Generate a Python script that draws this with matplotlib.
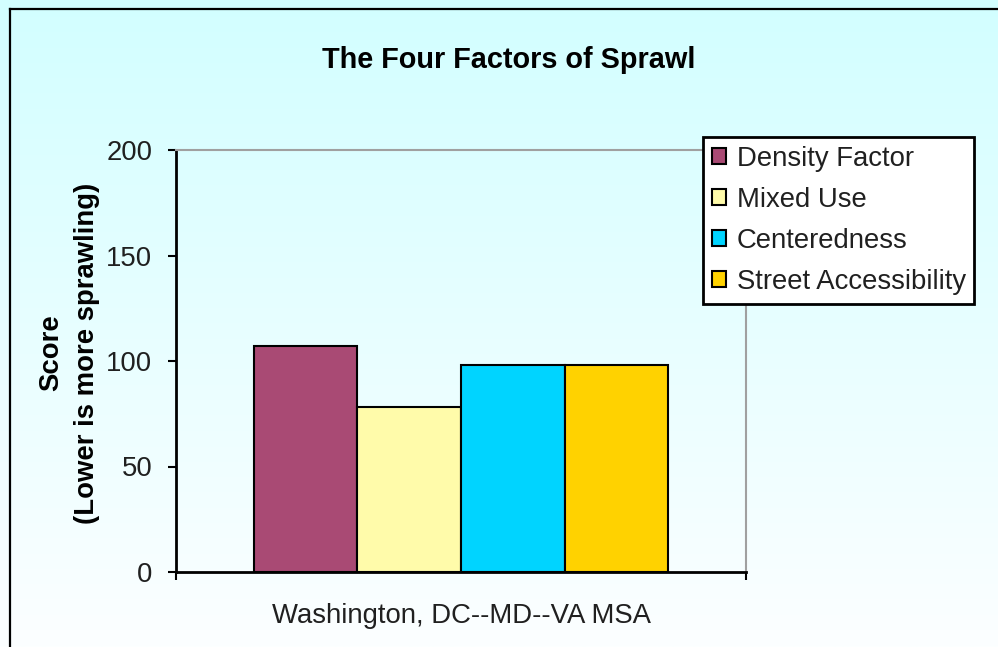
import numpy as np
import matplotlib
matplotlib.use("Agg")
import matplotlib.pyplot as plt
from matplotlib.lines import Line2D
from matplotlib.colors import to_rgb

# data
region = ["Washington, DC--MD--VA MSA"]
factors = ["Density Factor", "Mixed Use", "Centeredness", "Street Accessibility"]
scores = [107, 78, 98, 98]
colors = ["#A94A74", "#FFFBAA", "#00D4FF", "#FFD200"]
yticks = [0, 50, 100, 150, 200]

plt.rcParams['font.family'] = ['Liberation Sans', 'DejaVu Sans']
fs = 19.8

fig = plt.figure(figsize=(9.98, 6.47), dpi=100)

# light cyan gradient behind everything
bg = fig.add_axes([0, 0, 1, 1], zorder=-10)
top, bot = np.array(to_rgb("#D2FEFF")), np.array(to_rgb("#FCFFFF"))
t = np.linspace(0, 1, 256)[:, None, None]
grad = top * (1 - t) + bot * t
grad = np.repeat(grad, 2, axis=1)
bg.imshow(grad, aspect='auto', extent=[0, 1, 0, 1])
bg.axis('off')

# chart frame (only left and top visible)
fig.add_artist(Line2D([10 / 998, 10 / 998], [0, 1 - 9 / 647], color='black', lw=1.6,
                      transform=fig.transFigure))
fig.add_artist(Line2D([10 / 998, 1], [1 - 9 / 647, 1 - 9 / 647], color='black', lw=1.6,
                      transform=fig.transFigure))

ax = fig.add_axes([176 / 998, 1 - 572 / 647, 570 / 998, 422 / 647])
ax.patch.set_alpha(0)

width = 0.1816
n = len(factors)
for i, (f, s, c) in enumerate(zip(factors, scores, colors)):
    x = (i - (n - 1) / 2) * width
    ax.bar(x, s, width, color=c, edgecolor='black', linewidth=1.5, label=f, zorder=3)

ax.set_xlim(-0.5, 0.5)
ax.set_ylim(0, 200)
ax.set_yticks(yticks)
ax.tick_params(axis='y', direction='out', length=6, width=1.5, pad=11, labelsize=fs,
               colors='black', labelcolor='#202020')
ax.set_xticks([0], labels=region)
ax.tick_params(axis='x', which='major', length=0, pad=22, labelsize=fs, labelcolor='#202020')
ax.set_xticks([-0.5, 0.5], minor=True)
ax.tick_params(axis='x', which='minor', direction='out', length=6, width=1.5)

for side in ['left', 'bottom']:
    ax.spines[side].set_color('black')
    ax.spines[side].set_linewidth(2)
for side in ['top', 'right']:
    ax.spines[side].set_color('#A0A0A0')
    ax.spines[side].set_linewidth(1.5)

fig.text(509 / 998, 1 - 60 / 647, "The Four Factors of Sprawl", ha='center', va='center',
         fontsize=20.8, fontweight='bold')
fig.text(69 / 998, 1 - 353 / 647, "Score\n(Lower is more sprawling)", rotation=90,
         ha='center', va='center', multialignment='center', fontsize=fs,
         fontweight='bold', linespacing=1.5)

leg = ax.legend(loc='upper left', bbox_to_anchor=(703 / 998, 1 - 137 / 647),
                bbox_transform=fig.transFigure, fontsize=fs, frameon=True,
                fancybox=False, framealpha=1, facecolor='white', edgecolor='black',
                handlelength=0.52, handleheight=0.52, handletextpad=0.38,
                labelspacing=0.55, borderpad=0.32, borderaxespad=0)
leg.get_frame().set_linewidth(2)
for txt in leg.get_texts():
    txt.set_color('#202020')

fig.savefig("out.png", dpi=100)
